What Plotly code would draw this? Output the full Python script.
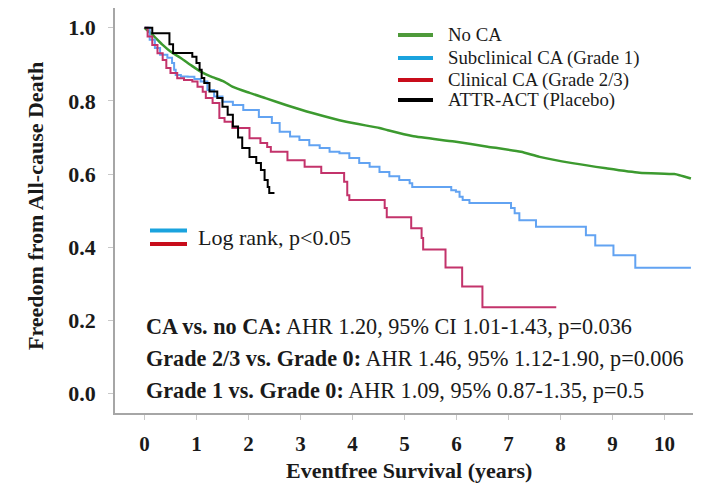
import plotly.graph_objects as go

# ---------------- data ----------------
no_ca_t = [0, 0.19, 0.35, 0.5, 0.69, 0.88, 1.08, 1.27, 1.53, 1.69, 2.02, 2.34, 2.72,
           3.23, 3.88, 4.52, 4.68, 5.15, 5.96, 6.6, 7.24, 7.6, 8.23, 8.88, 9.52,
           10.19, 10.29, 10.51]
no_ca_s = [1.0, 0.976, 0.953, 0.935, 0.918, 0.899, 0.88, 0.867, 0.853, 0.839, 0.822,
           0.807, 0.789, 0.767, 0.743, 0.726, 0.72, 0.704, 0.689, 0.675, 0.661, 0.647,
           0.63, 0.616, 0.604, 0.600, 0.597, 0.588]

sub_t = [0, 0.1, 0.2, 0.3, 0.44, 0.53, 0.57, 0.6, 0.7, 0.83, 0.96, 1.08, 1.21, 1.34,
         1.5, 1.7, 1.9, 2.2, 2.45, 2.6, 2.8, 2.98, 3.17, 3.37, 3.56, 3.75, 3.94, 4.13,
         4.33, 4.52, 4.71, 4.9, 5.1, 5.15, 5.9, 5.99, 6.06, 6.12, 6.25, 7.05, 7.12,
         7.21, 7.53, 8.49, 8.67, 9.02, 9.44, 10.51]
sub_s = [1.0, 0.967, 0.945, 0.926, 0.918, 0.904, 0.885, 0.871, 0.867, 0.866, 0.86,
         0.853, 0.83, 0.812, 0.798, 0.789, 0.775, 0.756, 0.74, 0.716, 0.703, 0.693,
         0.679, 0.671, 0.661, 0.657, 0.644, 0.63, 0.62, 0.606, 0.594, 0.584, 0.575,
         0.565, 0.556, 0.552, 0.538, 0.529, 0.521, 0.507, 0.493, 0.474, 0.456, 0.433,
         0.405, 0.378, 0.344, 0.344]

clin_t = [0, 0.06, 0.15, 0.25, 0.35, 0.42, 0.5, 0.63, 0.76, 0.92, 1.02, 1.12, 1.18,
          1.31, 1.44, 1.54, 1.69, 2.02, 2.23, 2.36, 2.43, 2.75, 3.08, 3.4, 3.84, 3.9,
          3.94, 4.62, 4.66, 5.13, 5.33, 5.36, 5.79, 6.11, 6.5, 7.92]
clin_s = [1.0, 0.976, 0.953, 0.93, 0.912, 0.89, 0.876, 0.862, 0.857, 0.853, 0.839,
          0.825, 0.808, 0.794, 0.753, 0.743, 0.726, 0.698, 0.685, 0.674, 0.661, 0.638,
          0.62, 0.603, 0.579, 0.542, 0.529, 0.507, 0.482, 0.452, 0.425, 0.394, 0.345,
          0.293, 0.236, 0.236]

attr_t = [0, 0.15, 0.48, 0.55, 0.92, 1.0, 1.06, 1.1, 1.15, 1.25, 1.4, 1.5, 1.6, 1.7,
          1.8, 1.88, 2.02, 2.15, 2.24, 2.31, 2.37, 2.4, 2.5]
attr_s = [1.0, 0.985, 0.955, 0.931, 0.921, 0.904, 0.885, 0.863, 0.849, 0.826, 0.808,
          0.784, 0.762, 0.73, 0.70, 0.671, 0.647, 0.63, 0.611, 0.584, 0.565, 0.548, 0.548]

x_ticks = list(range(0, 11))
y_ticks = [0.0, 0.2, 0.4, 0.6, 0.8, 1.0]

legend_labels = ["No CA", "Subclinical CA (Grade 1)", "Clinical CA (Grade 2/3)",
                 "ATTR-ACT (Placebo)"]
hr_prefix = ["CA vs. no CA:", "Grade 2/3 vs. Grade 0:", "Grade 1 vs. Grade 0:"]
hr_text = [" AHR 1.20, 95% CI 1.01-1.43, p=0.036",
           " AHR 1.46, 95% 1.12-1.90, p=0.006",
           " AHR 1.09, 95% 0.87-1.35, p=0.5"]

# ---------------- styling ----------------
OFF = 8                      # page body margin of the browser
W, H = 715 - OFF, 486 - OFF  # figure size so that it fits the window
# plot area in window pixels: x 115..693, y 8..413
ML, MT = 115 - OFF, 8 - OFF
MR, MB = 715 - 693, 486 - 413
PW, PH = W - ML - MR, H - MT - MB
FONT = "Liberation Serif, Times New Roman, serif"

curve_colors = ["#3c9a2f", "#62a3f2", "#c3336b", "#000000"]
legend_colors = ["#4e9a3a", "#1aa3de", "#c80d1b", "#000000"]


def px(x):
    """window pixel x -> paper coordinate"""
    return (x - OFF - ML) / PW


def py(y):
    """window pixel y -> paper coordinate"""
    return (H - MB - (y - OFF)) / PH


fig = go.Figure()
fig.add_trace(go.Scatter(x=no_ca_t, y=no_ca_s, mode="lines",
                         line=dict(color=curve_colors[0], width=2.5, shape="spline", smoothing=0.6)))
fig.add_trace(go.Scatter(x=sub_t, y=sub_s, mode="lines",
                         line=dict(color=curve_colors[1], width=2, shape="hv")))
fig.add_trace(go.Scatter(x=clin_t, y=clin_s, mode="lines",
                         line=dict(color=curve_colors[2], width=2, shape="hv")))
fig.add_trace(go.Scatter(x=attr_t, y=attr_s, mode="lines",
                         line=dict(color=curve_colors[3], width=2, shape="hv")))

shapes = []
annotations = []

# legend (top right)
leg_rows = [35, 58, 80, 100]
for lab, col, yy in zip(legend_labels, legend_colors, leg_rows):
    shapes.append(dict(type="line", xref="paper", yref="paper",
                       x0=px(398), x1=px(433), y0=py(yy), y1=py(yy),
                       line=dict(color=col, width=4)))
    annotations.append(dict(xref="paper", yref="paper", x=px(446), y=py(yy),
                            xanchor="left", yanchor="middle", showarrow=False,
                            text=lab, font=dict(family=FONT, size=18.8, color="#1a1a1a")))

# log-rank legend
shapes.append(dict(type="line", xref="paper", yref="paper", x0=px(150), x1=px(187),
                   y0=py(230.5), y1=py(230.5), line=dict(color=legend_colors[1], width=4)))
shapes.append(dict(type="line", xref="paper", yref="paper", x0=px(150), x1=px(187),
                   y0=py(244), y1=py(244), line=dict(color=legend_colors[2], width=4)))
annotations.append(dict(xref="paper", yref="paper", x=px(196), y=py(237),
                        xanchor="left", yanchor="middle", showarrow=False,
                        text="Log rank, p<0.05",
                        font=dict(family=FONT, size=22, color="#1a1a1a")))

# hazard-ratio text
for pre, txt, yy in zip(hr_prefix, hr_text, [326, 358, 390]):
    annotations.append(dict(xref="paper", yref="paper", x=px(144), y=py(yy),
                            xanchor="left", yanchor="middle", showarrow=False,
                            text="<b>" + pre + "</b>" + txt,
                            font=dict(family=FONT, size=22.2, color="#1a1a1a")))

# axis titles
annotations.append(dict(xref="paper", yref="paper", x=px(35), y=py(206),
                        xanchor="center", yanchor="middle", showarrow=False,
                        textangle=-90, text="<b>Freedom from All-cause Death</b>",
                        font=dict(family=FONT, size=22, color="#1a1a1a")))
annotations.append(dict(xref="paper", yref="paper", x=px(409), y=py(470),
                        xanchor="center", yanchor="middle", showarrow=False,
                        text="<b>Eventfree Survival (years)</b>",
                        font=dict(family=FONT, size=22, color="#1a1a1a")))

fig.update_layout(
    width=W, height=H,
    margin=dict(l=ML, r=MR, t=MT, b=MB, pad=0, autoexpand=False),
    paper_bgcolor="white", plot_bgcolor="white",
    showlegend=False,
    shapes=shapes, annotations=annotations,
    xaxis=dict(range=[-0.567, 10.55], tickvals=x_ticks, showgrid=False, zeroline=False,
               showline=True, linecolor="#a6a6a6", linewidth=1.5,
               ticks="outside", ticklen=5, tickcolor="#c8c8c8", tickwidth=1,
               ticklabelstandoff=6, automargin=False,
               tickfont=dict(family=FONT, size=21, color="#1a1a1a", weight="bold")),
    yaxis=dict(range=[-0.053, 1.054], tickvals=y_ticks, tickformat=".1f",
               showgrid=False, zeroline=False,
               showline=True, linecolor="#a6a6a6", linewidth=1.5,
               ticks="outside", ticklen=5, tickcolor="#c8c8c8", tickwidth=1,
               ticklabelstandoff=8, automargin=False,
               tickfont=dict(family=FONT, size=22, color="#1a1a1a", weight="bold")),
)

fig.write_html("out.html")
